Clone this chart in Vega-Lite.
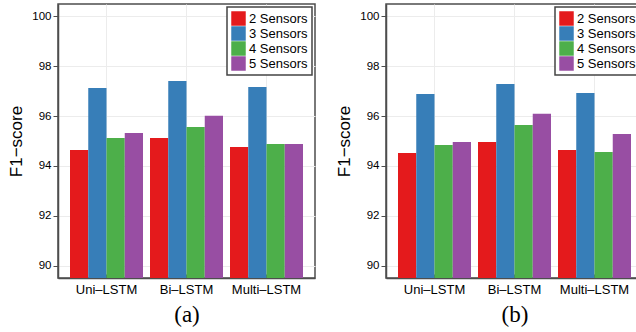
{
  "$schema": "https://vega.github.io/schema/vega-lite/v6.json",
  "padding": {"left": 7, "top": 3, "right": 0, "bottom": 0},
  "background": "white",
  "config": {
    "font": "Liberation Sans",
    "view": {"stroke": "#4d4d4d", "strokeWidth": 1.5},
    "concat": {"spacing": 19},
    "axis": {
      "grid": true,
      "gridColor": "#ececec",
      "gridWidth": 1,
      "domainColor": "#4d4d4d",
      "domainWidth": 1.5,
      "tickColor": "#4d4d4d",
      "labelColor": "black",
      "titleColor": "black",
      "titleFontWeight": "normal"
    },
    "axisX": {
      "labelFontSize": 13,
      "labelAngle": 0,
      "tickSize": -4,
      "labelPadding": 9,
      "titleFont": "Liberation Serif",
      "titleFontSize": 23,
      "titlePadding": 7
    },
    "axisY": {
      "labelFontSize": 11.5,
      "tickSize": 5,
      "labelPadding": 2,
      "minExtent": 0,
      "titleFontSize": 17,
      "titlePadding": 6
    }
  },
  "resolve": {"scale": {"color": "shared"}, "legend": {"color": "independent"}},
  "datasets": {
    "a": [
      {"model": "Uni–LSTM", "sensors": "2 Sensors", "f1": 94.64},
      {"model": "Uni–LSTM", "sensors": "3 Sensors", "f1": 97.13},
      {"model": "Uni–LSTM", "sensors": "4 Sensors", "f1": 95.12},
      {"model": "Uni–LSTM", "sensors": "5 Sensors", "f1": 95.32},
      {"model": "Bi–LSTM", "sensors": "2 Sensors", "f1": 95.12},
      {"model": "Bi–LSTM", "sensors": "3 Sensors", "f1": 97.41},
      {"model": "Bi–LSTM", "sensors": "4 Sensors", "f1": 95.56},
      {"model": "Bi–LSTM", "sensors": "5 Sensors", "f1": 96.01},
      {"model": "Multi–LSTM", "sensors": "2 Sensors", "f1": 94.76},
      {"model": "Multi–LSTM", "sensors": "3 Sensors", "f1": 97.17},
      {"model": "Multi–LSTM", "sensors": "4 Sensors", "f1": 94.88},
      {"model": "Multi–LSTM", "sensors": "5 Sensors", "f1": 94.88}
    ],
    "b": [
      {"model": "Uni–LSTM", "sensors": "2 Sensors", "f1": 94.52},
      {"model": "Uni–LSTM", "sensors": "3 Sensors", "f1": 96.89},
      {"model": "Uni–LSTM", "sensors": "4 Sensors", "f1": 94.84},
      {"model": "Uni–LSTM", "sensors": "5 Sensors", "f1": 94.96},
      {"model": "Bi–LSTM", "sensors": "2 Sensors", "f1": 94.96},
      {"model": "Bi–LSTM", "sensors": "3 Sensors", "f1": 97.29},
      {"model": "Bi–LSTM", "sensors": "4 Sensors", "f1": 95.64},
      {"model": "Bi–LSTM", "sensors": "5 Sensors", "f1": 96.09},
      {"model": "Multi–LSTM", "sensors": "2 Sensors", "f1": 94.64},
      {"model": "Multi–LSTM", "sensors": "3 Sensors", "f1": 96.93},
      {"model": "Multi–LSTM", "sensors": "4 Sensors", "f1": 94.56},
      {"model": "Multi–LSTM", "sensors": "5 Sensors", "f1": 95.28}
    ]
  },
  "hconcat": [
    {
      "width": 257,
      "height": 274,
      "data": {"name": "a"},
      "mark": {"type": "bar", "clip": true},
      "encoding": {
        "x": {"field": "model", "type": "nominal", "sort": ["Uni–LSTM", "Bi–LSTM", "Multi–LSTM"], "scale": {"paddingInner": 0.0875, "paddingOuter": 0.15}, "axis": {"title": "(a)"}},
        "xOffset": {"field": "sensors", "type": "nominal", "scale": {"paddingInner": 0, "paddingOuter": 0}},
        "y": {"field": "f1", "type": "quantitative", "scale": {"domain": [89.5, 100.5], "nice": false, "zero": false}, "axis": {"title": "F1−score", "values": [90, 92, 94, 96, 98, 100]}},
        "color": {"field": "sensors", "type": "nominal", "scale": {"range": ["#e41a1c", "#377eb8", "#4daf4a", "#984ea3"]},
          "legend": {"title": null, "orient": "top-right", "offset": 3, "strokeColor": "#444", "fillColor": "white", "padding": 4, "symbolType": "square", "symbolSize": 210, "symbolStrokeWidth": 0, "symbolOpacity": 1, "labelFontSize": 13, "labelColor": "black", "labelOffset": 3, "rowPadding": 0,
            "encode": {"legend": {"update": {"strokeWidth": {"value": 1.5}}}}}}
      }
    },
    {
      "width": 257,
      "height": 274,
      "data": {"name": "b"},
      "mark": {"type": "bar", "clip": true},
      "encoding": {
        "x": {"field": "model", "type": "nominal", "sort": ["Uni–LSTM", "Bi–LSTM", "Multi–LSTM"], "scale": {"paddingInner": 0.0875, "paddingOuter": 0.15}, "axis": {"title": "(b)"}},
        "xOffset": {"field": "sensors", "type": "nominal", "scale": {"paddingInner": 0, "paddingOuter": 0}},
        "y": {"field": "f1", "type": "quantitative", "scale": {"domain": [89.5, 100.5], "nice": false, "zero": false}, "axis": {"title": "F1−score", "values": [90, 92, 94, 96, 98, 100]}},
        "color": {"field": "sensors", "type": "nominal", "scale": {"range": ["#e41a1c", "#377eb8", "#4daf4a", "#984ea3"]},
          "legend": {"title": null, "orient": "top-right", "offset": 3, "strokeColor": "#444", "fillColor": "white", "padding": 4, "symbolType": "square", "symbolSize": 210, "symbolStrokeWidth": 0, "symbolOpacity": 1, "labelFontSize": 13, "labelColor": "black", "labelOffset": 3, "rowPadding": 0,
            "encode": {"legend": {"update": {"strokeWidth": {"value": 1.5}}}}}}
      }
    }
  ]
}
